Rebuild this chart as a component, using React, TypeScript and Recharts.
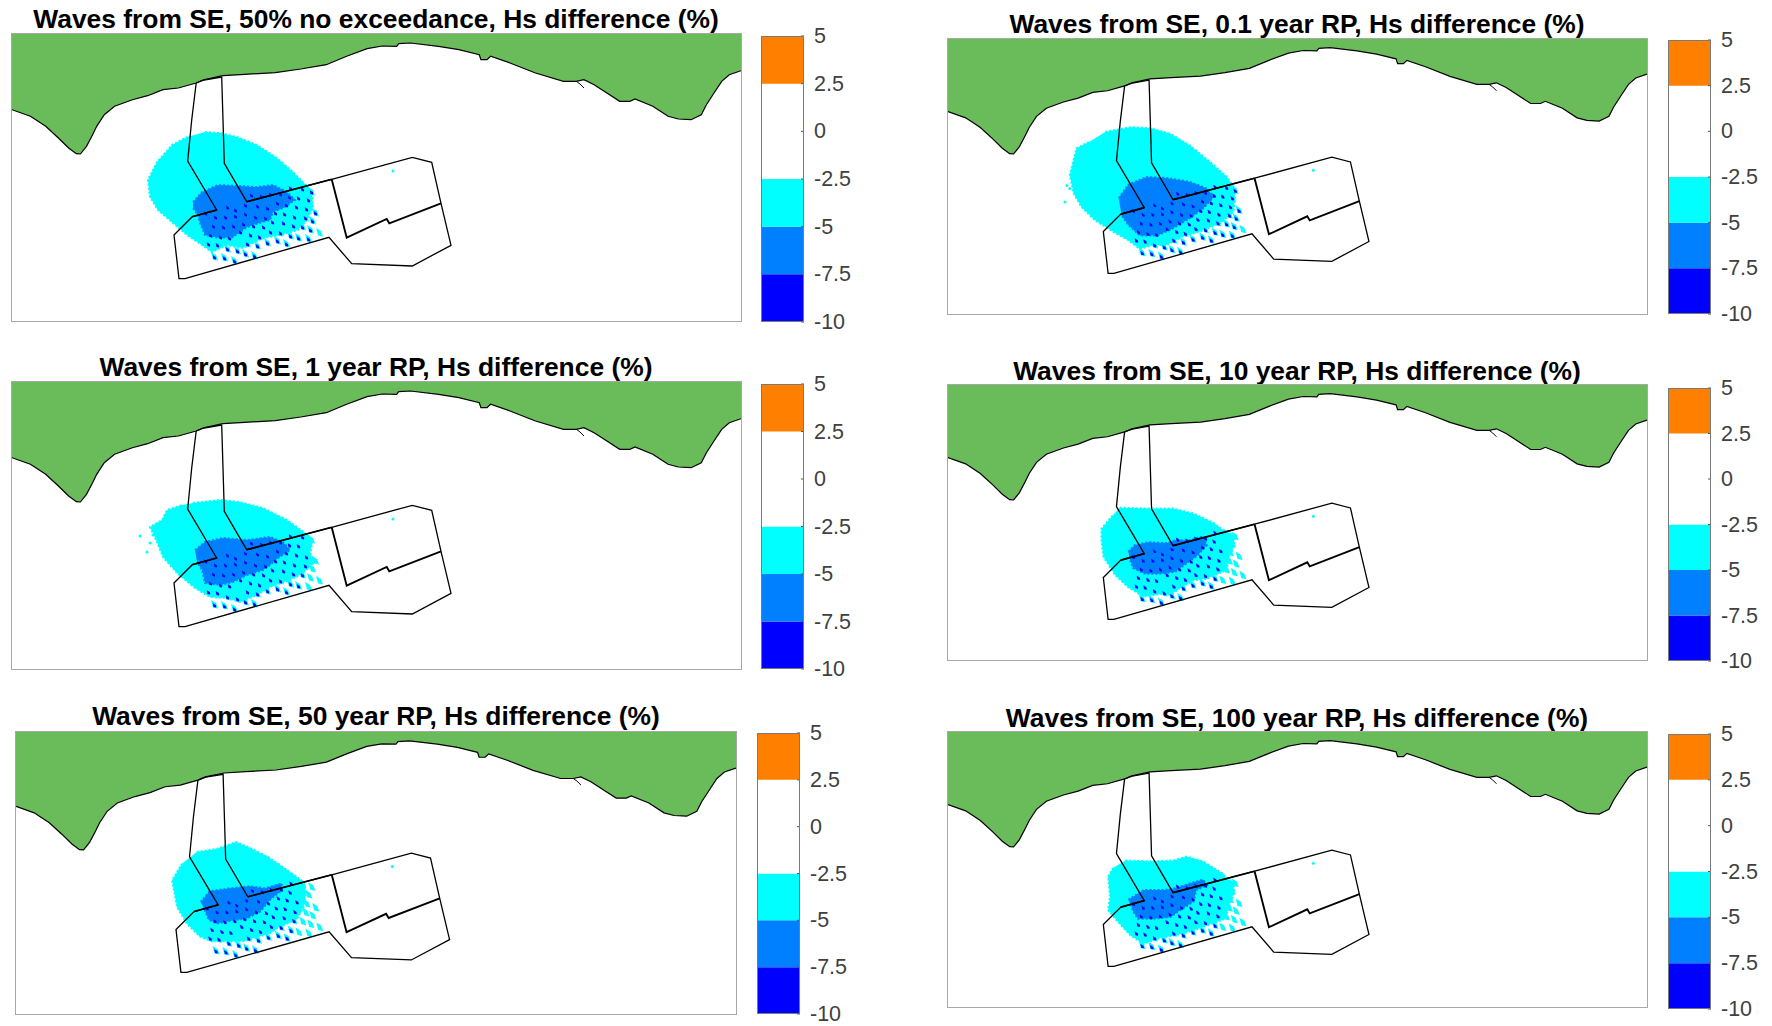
import React from 'react';
import { BarChart, Bar, XAxis, YAxis, ScatterChart, Scatter } from 'recharts';

// map units: east / south offset in the extent of the plotted area
const MAP_EAST = 729;
const MAP_SOUTH = 287;

const coast = [
  [0, 75.7], [18.4, 82.3], [33.7, 92.3], [46.4, 104], [56.6, 114], [64.3, 119.7], [68.4, 120], [74.5, 112.3],
  [80.6, 100.7], [84.7, 92.3], [92.3, 80.7], [102.6, 72.3], [120.4, 65.7], [135.7, 61.7], [151, 55.7], [166.3, 54],
  [184.2, 49], [191.8, 45.7], [210.7, 41.7], [232.7, 40.3], [263.3, 38.7], [288.8, 35], [314.3, 30.7], [334.7, 22.3],
  [355.1, 14.7], [370.4, 12], [384.7, 12.3], [386.7, 9.7], [398.5, 9], [426.5, 12.3], [446.9, 15.7], [467.3, 20.7],
  [468.9, 25.7], [475, 25.7], [478.6, 22.3], [498, 29], [523.5, 39], [551.5, 47.3], [564.3, 47.3], [571.9, 45.7],
  [582.1, 50.7], [594.9, 59], [607.7, 67.3], [617.9, 67.3], [623, 65], [640.8, 72.3], [656.1, 82.3], [666.3, 85],
  [679.1, 85.7], [689.3, 80.7], [694.4, 70.7], [702, 59], [709.7, 47.3], [717.3, 40.7], [729, 36.7],
];
const landCorners = [[729, 0], [0, 0]];
const inlet = [[564.3, 47.3], [568, 50], [572, 54]];

const siteOutline = [
  [184.2, 49], [179.7, 86], [175.7, 127], [204.7, 176], [180.3, 182.7], [162, 201], [167, 244.7], [173, 244.7],
  [317, 203.3], [339.7, 229.7], [400.3, 232], [439, 211.3], [429, 169.3], [419.7, 128.3], [400.3, 123.3],
  [319.7, 145.3], [234.7, 167.7], [212.3, 129.3], [211, 86], [209.7, 43], [192, 46], [184.2, 49],
];
const innerBoundary = [[319.7, 145.3], [334.7, 203.7], [374.7, 185], [377.3, 189.3], [429, 169.3]];
const northEdge = [[234.7, 167.7], [319.7, 145.3]];
const westEdge = [[204.7, 176], [180.3, 182.7]];

const turbines = [
  [202, 223], [212, 224], [222, 227], [233, 220], [242, 222],
  [196, 210], [205, 211], [215, 215], [225, 217], [235, 210], [245, 212], [255, 209], [265, 207], [274, 210],
  [198, 201], [208, 203], [217, 204], [228, 198], [238, 201], [247, 203], [258, 198], [268, 199], [278, 202], [286, 204], [296, 205],
  [201, 192], [211, 193], [221, 192], [231, 190], [241, 192], [251, 193], [260, 188], [271, 189], [281, 192], [290, 193], [298, 196], [307, 199],
  [193, 179], [203, 183], [213, 183], [223, 182], [233, 180], [243, 183], [253, 184], [263, 179], [272, 180], [282, 183], [293, 184], [300, 187],
  [215, 173], [223, 176], [233, 171], [245, 172], [255, 174], [265, 169], [274, 171], [284, 173], [294, 175], [303, 179],
  [239, 161], [249, 162], [258, 160], [268, 160], [277, 163], [286, 164], [296, 166],
  [278, 154], [290, 155], [299, 158],
];
const loneSpot = [[381, 137]];

const cyan50 = [[193, 98], [208, 99], [225, 103], [245, 111], [265, 124], [281, 138], [294, 151], [300, 158], [301, 173], [295, 186], [286, 196], [268, 201], [251, 204], [231, 214], [215, 211], [200, 218], [190, 211], [175, 201], [161, 189], [146, 176], [138, 163], [136, 146], [145, 128], [160, 111], [175, 103]];
const blue50 = [[181, 168], [190, 158], [206, 151], [228, 152], [245, 153], [261, 151], [275, 158], [283, 166], [271, 174], [261, 178], [258, 186], [250, 188], [235, 193], [221, 203], [208, 204], [193, 201], [188, 189], [186, 181], [181, 174]];

const cyan01 = [[164, 97], [190, 92], [211, 93], [232, 99], [252, 111], [273, 128], [291, 144], [299, 156], [299, 168], [298, 180], [284, 192], [263, 201], [245, 206], [228, 215], [214, 215], [200, 219], [188, 210], [172, 201], [153, 189], [139, 175], [131, 161], [127, 142], [134, 114], [148, 107]];
const blue01 = [[178, 166], [188, 152], [207, 144], [228, 145], [252, 149], [270, 156], [277, 165], [266, 177], [252, 187], [244, 192], [232, 199], [218, 205], [200, 205], [188, 194], [181, 184]];
const strays01 = [[124, 153], [127, 156], [122, 170]];

const cyan1 = [[181, 121], [208, 118], [228, 120], [251, 126], [275, 138], [293, 151], [301, 158], [298, 171], [303, 180], [291, 191], [278, 198], [258, 205], [245, 213], [228, 220], [215, 216], [198, 215], [183, 206], [165, 191], [151, 175], [145, 160], [138, 145], [150, 138], [155, 128], [170, 123]];
const blue1 = [[183, 168], [193, 160], [211, 156], [235, 158], [258, 155], [271, 160], [278, 168], [266, 176], [258, 183], [251, 188], [235, 193], [221, 200], [208, 203], [193, 201], [190, 188], [185, 180]];
const strays1 = [[128, 154], [141, 153], [138, 161], [135, 170]];

const cyan10 = [[179, 128], [211, 129], [235, 129], [256, 134], [277, 144], [289, 153], [299, 157], [298, 169], [292, 183], [291, 193], [270, 202], [256, 204], [242, 212], [232, 219], [221, 218], [204, 221], [188, 211], [174, 198], [162, 179], [160, 162], [160, 150], [172, 136]];
const blue10 = [[188, 174], [195, 167], [209, 164], [228, 165], [237, 162], [252, 162], [266, 158], [270, 167], [259, 179], [249, 186], [237, 195], [221, 197], [205, 197], [193, 191], [190, 183]];

const cyan50y = [[183, 122], [203, 119], [223, 112], [237, 118], [255, 127], [274, 140], [289, 151], [294, 162], [291, 179], [284, 191], [267, 198], [257, 205], [240, 210], [230, 213], [217, 213], [198, 213], [186, 208], [173, 195], [163, 178], [161, 167], [158, 151], [168, 134]];
const blue50y = [[187, 173], [196, 162], [217, 159], [237, 157], [252, 159], [269, 154], [269, 161], [257, 171], [247, 183], [233, 190], [223, 191], [203, 195], [195, 191], [191, 181]];

const cyan100 = [[185, 134], [211, 135], [235, 134], [249, 130], [266, 135], [287, 148], [291, 154], [298, 156], [298, 168], [292, 186], [289, 195], [270, 202], [256, 207], [238, 212], [221, 215], [204, 221], [190, 212], [179, 200], [167, 186], [169, 172], [167, 151], [172, 142]];
const blue100 = [[188, 175], [204, 165], [225, 165], [237, 163], [252, 158], [266, 154], [270, 160], [259, 165], [256, 177], [245, 184], [232, 193], [214, 195], [198, 195], [193, 187], [191, 181]];

const colorbarTicks = [-10, -7.5, -5, -2.5, 0, 2.5, 5];
const colorbarBands = [{ band: 'Hs difference', base: -10, deep: 2.5, mid: 2.5, light: 2.5, none: 5, up: 2.5 }];

const panels = [
  { title: 'Waves from SE, 50% no exceedance, Hs difference (%)', cyan: cyan50, blue: blue50, strays: [], faintEast: 304, box: [12, 34, 741, 321], bar: [761, 36, 804, 322], titleX: 376, titleY: 19 },
  { title: 'Waves from SE, 0.1 year RP, Hs difference (%)', cyan: cyan01, blue: blue01, strays: strays01, faintEast: 304, box: [948, 39, 1647, 314], bar: [1668, 40, 1711, 314], titleX: 1297, titleY: 24 },
  { title: 'Waves from SE, 1 year RP, Hs difference (%)', cyan: cyan1, blue: blue1, strays: strays1, faintEast: 295, box: [12, 382, 741, 669], bar: [761, 384, 804, 669], titleX: 376, titleY: 367 },
  { title: 'Waves from SE, 10 year RP, Hs difference (%)', cyan: cyan10, blue: blue10, strays: [], faintEast: 285, box: [948, 385, 1647, 660], bar: [1668, 388, 1711, 661], titleX: 1297, titleY: 371 },
  { title: 'Waves from SE, 50 year RP, Hs difference (%)', cyan: cyan50y, blue: blue50y, strays: [], faintEast: 285, box: [16, 732, 736, 1014], bar: [757, 733, 800, 1014], titleX: 376, titleY: 716 },
  { title: 'Waves from SE, 100 year RP, Hs difference (%)', cyan: cyan100, blue: blue100, strays: [], faintEast: 285, box: [948, 732, 1647, 1007], bar: [1668, 734, 1711, 1009], titleX: 1297, titleY: 718 },
];

const toPoints = (list: number[][]) => list.map(([x, y]) => ({ x, y }));

const NoDot = () => null;

const StrayDot = (props: any) => <circle cx={props.cx} cy={props.cy} r={1.5} fill="#00ffff" />;

// cyan tail of a turbine wake, goes under the blue patch
const WakeTail = (props: any) => (
  <path transform={`translate(${props.cx},${props.cy})`} d="M-3,-5 L2,-2 L4,3.5 L-1,2.5 Z" fill="#00ffff" />
);

// core of the wake, goes over the blue patch
function wakeCore(faintEast: number) {
  return (props: any) => {
    const { cx, cy, payload } = props;
    if (payload.x > faintEast) return null;
    return (
      <g transform={`translate(${cx},${cy})`}>
        <path d="M-1.5,-2 L1.5,-0.5 L2.5,2 L-0.5,1.5 Z" fill="#0080ff" />
        <path d="M-1,-1.5 L2,0.5 L2,2.5 L-0.5,2 Z" fill="#0000ff" />
      </g>
    );
  };
}

// dashed stroke in the fill colour gives the patches their stepped mesh edge
const patchLine = (color: string) => ({ fill: color, stroke: color, strokeWidth: 2, strokeDasharray: '2 2' });

function MapPanel({ panel }: { panel: (typeof panels)[number] }) {
  const [left, top, right, bottom] = panel.box;
  const width = right - left;
  const height = bottom - top;
  const WakeCore = wakeCore(panel.faintEast);
  return (
    <div style={{ position: 'absolute', left, top, width, height, outline: '1px solid #a8a8a8' }}>
      <ScatterChart width={width} height={height} margin={{ top: 0, right: 0, bottom: 0, left: 0 }}>
        <XAxis type="number" dataKey="x" domain={[0, MAP_EAST]} hide />
        <YAxis type="number" dataKey="y" domain={[0, MAP_SOUTH]} reversed hide />
        <Scatter data={toPoints(panel.cyan)} line={patchLine('#00ffff')} shape={NoDot} isAnimationActive={false} />
        <Scatter data={toPoints(turbines)} shape={WakeTail} isAnimationActive={false} />
        <Scatter data={toPoints(panel.blue)} line={patchLine('#0080ff')} shape={NoDot} isAnimationActive={false} />
        <Scatter data={toPoints(turbines)} shape={WakeCore} isAnimationActive={false} />
        <Scatter data={toPoints(panel.strays)} shape={StrayDot} isAnimationActive={false} />
        <Scatter data={toPoints(loneSpot)} shape={StrayDot} isAnimationActive={false} />
        <Scatter data={toPoints([...coast, ...landCorners])} line={{ fill: '#6abb59', stroke: 'none' }} shape={NoDot} isAnimationActive={false} />
        <Scatter data={toPoints(coast)} line={{ stroke: '#000', strokeWidth: 1.2 }} shape={NoDot} isAnimationActive={false} />
        <Scatter data={toPoints(inlet)} line={{ stroke: '#000', strokeWidth: 1 }} shape={NoDot} isAnimationActive={false} />
        <Scatter data={toPoints(siteOutline)} line={{ stroke: '#000', strokeWidth: 1.3 }} shape={NoDot} isAnimationActive={false} />
        <Scatter data={toPoints(innerBoundary)} line={{ stroke: '#000', strokeWidth: 1.9 }} shape={NoDot} isAnimationActive={false} />
        <Scatter data={toPoints(northEdge)} line={{ stroke: '#000', strokeWidth: 1.7 }} shape={NoDot} isAnimationActive={false} />
        <Scatter data={toPoints(westEdge)} line={{ stroke: '#000', strokeWidth: 1.7 }} shape={NoDot} isAnimationActive={false} />
      </ScatterChart>
    </div>
  );
}

const BAR_LABEL_SPACE = 70;
const BAR_PAD = 12;

const ColorbarTick = (props: any) => {
  const { x, y, payload } = props;
  return (
    <g>
      <line x1={x - 13} x2={x - 10} y1={y} y2={y} stroke="#555" strokeWidth={1} />
      <text x={x} y={y + 7} fontSize={21.5} fill="#404040" fontFamily="Liberation Sans">
        {payload.value}
      </text>
    </g>
  );
};

function Colorbar({ panel }: { panel: (typeof panels)[number] }) {
  const [left, top, right, bottom] = panel.bar;
  const barWidth = right - left;
  const barHeight = bottom - top;
  return (
    <div style={{ position: 'absolute', left, top: top - BAR_PAD }}>
      <BarChart
        width={barWidth + BAR_LABEL_SPACE}
        height={barHeight + BAR_PAD * 2}
        data={colorbarBands}
        barCategoryGap={0}
        margin={{ top: BAR_PAD, right: 0, bottom: BAR_PAD, left: 0 }}
      >
        <XAxis dataKey="band" hide />
        <YAxis
          type="number"
          orientation="right"
          width={BAR_LABEL_SPACE}
          domain={[-10, 5]}
          ticks={colorbarTicks}
          interval={0}
          tickSize={0}
          tickMargin={10}
          axisLine={false}
          tick={ColorbarTick}
        />
        <Bar dataKey="base" stackId="hs" fill="none" isAnimationActive={false} />
        <Bar dataKey="deep" stackId="hs" fill="#0000ff" isAnimationActive={false} />
        <Bar dataKey="mid" stackId="hs" fill="#0080ff" isAnimationActive={false} />
        <Bar dataKey="light" stackId="hs" fill="#00ffff" isAnimationActive={false} />
        <Bar dataKey="none" stackId="hs" fill="#ffffff" isAnimationActive={false} />
        <Bar dataKey="up" stackId="hs" fill="#ff8000" isAnimationActive={false} />
      </BarChart>
      <div
        style={{
          position: 'absolute',
          left: 0,
          top: BAR_PAD,
          width: barWidth,
          height: barHeight,
          boxSizing: 'border-box',
          border: '1px solid #7a7a7a',
          pointerEvents: 'none',
        }}
      />
    </div>
  );
}

export default function App() {
  return (
    <div style={{ position: 'absolute', left: 0, top: 0, width: 1772, height: 1026, background: '#fff', overflow: 'hidden' }}>
      {panels.map((panel) => (
        <React.Fragment key={panel.title}>
          <div
            style={{
              position: 'absolute',
              left: panel.titleX - 450,
              top: panel.titleY - 16,
              width: 900,
              height: 32,
              lineHeight: '32px',
              textAlign: 'center',
              fontFamily: 'Liberation Sans',
              fontWeight: 700,
              fontSize: 26.4,
              color: '#000',
            }}
          >
            {panel.title}
          </div>
          <MapPanel panel={panel} />
          <Colorbar panel={panel} />
        </React.Fragment>
      ))}
    </div>
  );
}
